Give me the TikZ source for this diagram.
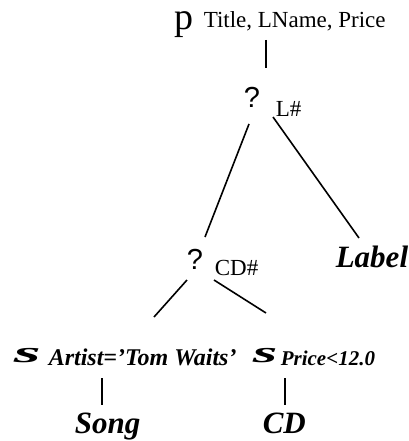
\documentclass[tikz,border=0pt]{standalone}
\usepackage{fontspec}
\setmainfont{Liberation Serif}
\newfontfamily\qfont{Liberation Sans}
\usepackage{tikz}

\begin{document}
\begin{tikzpicture}[x=1pt, y=-1pt, line width=1.6pt,
    op/.style = {anchor=base west, inner sep=0pt, font=\fontsize{38}{38}\selectfont},
    attr/.style = {anchor=base west, inner sep=0pt, font=\fontsize{23}{23}\selectfont},
    joinop/.style = {anchor=base west, inner sep=0pt, font=\qfont\fontsize{29}{29}\selectfont},
    rel/.style = {anchor=base west, inner sep=0pt, font=\fontsize{31}{31}\selectfont\bfseries\itshape},
    sel/.style = {anchor=base west, inner sep=0pt, font=\fontsize{30}{30}\selectfont\bfseries\itshape},
    cond/.style = {anchor=base west, inner sep=0pt, font=\bfseries\itshape}]
    \useasboundingbox (0,0) rectangle (408,441);

    % projection
    \node [op] (proj) at (174, 30) {p};
    \node [attr] (projattr) at (203, 28) {Title, LName, Price};

    % joins
    \node [joinop] (join1) at (243, 107) {?};
    \node [attr] (join1attr) at (275, 116) {L\#};
    \node [joinop] (join2) at (186, 269) {?};
    \node [attr] (join2attr) at (214, 275) {CD\#};

    % selections
    \node [sel] (sel1) at (13, 362) {\scalebox{2.3}[1]{s}};
    \node [cond, font=\fontsize{24}{24}\selectfont\bfseries\itshape] (sel1attr) at (48, 365) {Artist='Tom Waits'};
    \node [sel] (sel2) at (252, 362) {\scalebox{2.1}[1]{s}};
    \node [cond, font=\fontsize{21}{21}\selectfont\bfseries\itshape] (sel2attr) at (280, 365) {Price<12.0};

    % relations
    \node [rel] (label) at (335, 267) {Label};
    \node [rel] (song) at (74, 433) {Song};
    \node [rel] (cd) at (262, 433) {CD};

    % line ends
    \coordinate (proj-b) at (266, 40);
    \coordinate (join1-t) at (266, 68);
    \coordinate (join1-l) at (249, 124);
    \coordinate (join1-r) at (273, 117);
    \coordinate (join2-t) at (205, 237);
    \coordinate (label-t) at (359, 238);
    \coordinate (join2-l) at (187, 280);
    \coordinate (join2-r) at (214, 280);
    \coordinate (sel1-t) at (154, 317);
    \coordinate (sel2-t) at (266, 313);
    \coordinate (sel1-b) at (102, 378);
    \coordinate (song-t) at (102, 405);
    \coordinate (sel2-b) at (285, 378);
    \coordinate (cd-t) at (285, 405);

    \draw (proj-b) -- (join1-t);
    \draw (join1-l) -- (join2-t);
    \draw (join1-r) -- (label-t);
    \draw (join2-l) -- (sel1-t);
    \draw (join2-r) -- (sel2-t);
    \draw (sel1-b) -- (song-t);
    \draw (sel2-b) -- (cd-t);

\end{tikzpicture}
\end{document}
